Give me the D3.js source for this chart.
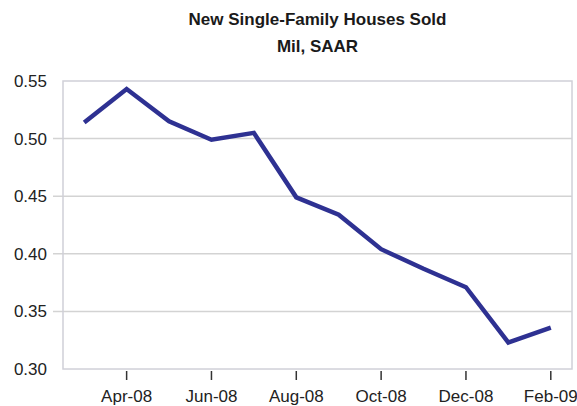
<!DOCTYPE html>
<html>
<head>
<meta charset="utf-8">
<script src="https://cdn.jsdelivr.net/npm/d3@7"></script>
<style>
  body { margin: 0; background: #fff; }
  svg text { font-family: "Liberation Sans", Arial, sans-serif; }
</style>
</head>
<body>
<svg id="drawing_region"></svg>
<script>
// months shown on the category axis
const months = ['Mar-08','Apr-08','May-08','Jun-08','Jul-08','Aug-08',
                'Sep-08','Oct-08','Nov-08','Dec-08','Jan-09','Feb-09'];
// new single-family houses sold, mil SAAR
const sales = [0.514, 0.543, 0.515, 0.499, 0.505, 0.449,
               0.434, 0.404, 0.387, 0.371, 0.323, 0.336];
const xTickLabels = ['Apr-08','Jun-08','Aug-08','Oct-08','Dec-08','Feb-09'];
const yTicks = [0.30, 0.35, 0.40, 0.45, 0.50, 0.55];
const titleLines = ['New Single-Family Houses Sold', 'Mil, SAAR'];

const data = months.map((m, i) => ({month: m, value: sales[i]}));

const config = {
    width: 577,
    height: 406,
    margin: {top: 81, right: 5, bottom: 37, left: 63}
};

const svg = d3.select('#drawing_region')
    .attr('width', config.width)
    .attr('height', config.height);

const inner_width = config.width - config.margin.left - config.margin.right;
const inner_height = config.height - config.margin.top - config.margin.bottom;

const chart = svg.append('g')
    .attr('transform', `translate(${config.margin.left}, ${config.margin.top})`);

const xscale = d3.scaleBand()
    .domain(months)
    .range([0, inner_width])
    .padding(0);

const yscale = d3.scaleLinear()
    .domain([0.30, 0.55])
    .range([inner_height, 0]);

// grid lines (stick out a little to the left like tick marks)
chart.append('g')
    .selectAll('line')
    .data(yTicks.slice(1, -1))
    .join('line')
    .attr('x1', -10)
    .attr('x2', inner_width)
    .attr('y1', d => yscale(d))
    .attr('y2', d => yscale(d))
    .attr('stroke', '#d3d3d3')
    .attr('stroke-width', 1.5);

// plot border
chart.append('rect')
    .attr('x', 0)
    .attr('y', 0)
    .attr('width', inner_width)
    .attr('height', inner_height)
    .attr('fill', 'none')
    .attr('stroke', '#d0d0d8')
    .attr('stroke-width', 1.5);

// y axis labels
const yaxis = d3.axisLeft(yscale)
    .tickValues(yTicks)
    .tickFormat(d3.format('.2f'))
    .tickSize(0)
    .tickPadding(16);

chart.append('g')
    .call(yaxis)
    .call(g => g.select('.domain').remove())
    .selectAll('text')
    .attr('font-size', 17)
    .attr('fill', '#222');

// x axis: ticks just below the plot edge
const xaxis = d3.axisBottom(xscale)
    .tickValues(xTickLabels)
    .tickSize(9)
    .tickPadding(10);

const xaxis_group = chart.append('g')
    .attr('transform', `translate(0, ${inner_height + 2})`)
    .call(xaxis);
xaxis_group.select('.domain').remove();
xaxis_group.selectAll('.tick line')
    .attr('stroke', '#333')
    .attr('stroke-width', 1.5);
xaxis_group.selectAll('text')
    .attr('font-size', 17)
    .attr('fill', '#222');

// data line
const line = d3.line()
    .x(d => xscale(d.month) + xscale.bandwidth() / 2)
    .y(d => yscale(d.value));

chart.append('path')
    .attr('d', line(data))
    .attr('fill', 'none')
    .attr('stroke', '#2e3192')
    .attr('stroke-width', 4.5);

// title
svg.append('g')
    .selectAll('text')
    .data(titleLines)
    .join('text')
    .attr('x', config.margin.left + inner_width / 2)
    .attr('y', (d, i) => 25 + i * 26.5)
    .attr('text-anchor', 'middle')
    .attr('font-size', 17)
    .attr('font-weight', 'bold')
    .attr('fill', '#1a1a1a')
    .text(d => d);
</script>
</body>
</html>
